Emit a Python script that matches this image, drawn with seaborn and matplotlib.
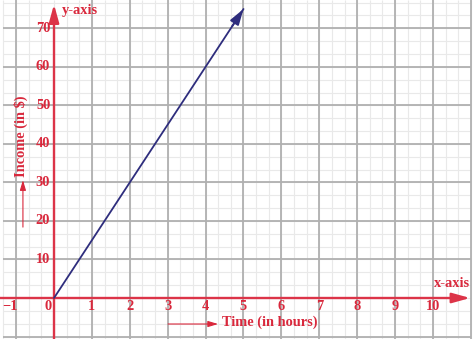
import numpy as np
import pandas as pd
import matplotlib
matplotlib.use("Agg")
import matplotlib.pyplot as plt
import seaborn as sns

# ---- data ----
time_hours = [0, 5]
income = [0, 75]
x_tick_values = [-1, 0, 1, 2, 3, 4, 5, 6, 7, 8, 9, 10]
x_tick_labels = ["\u22121", "0", "1", "2", "3", "4", "5", "6", "7", "8", "9", "10"]
y_tick_values = [10, 20, 30, 40, 50, 60, 70]
y_tick_labels = ["10", "20", "30", "40", "50", "60", "70"]

RED = "#d9283c"
AXRED = "#dc3448"
NAVY = "#2e2d7d"
MAJOR = "#b0b0b0"
MINOR = "#e9e9e9"

sns.set_theme(style="white")
plt.rcParams["font.family"] = ["Liberation Serif", "DejaVu Serif"]

fig = plt.figure(figsize=(4.74, 3.39), dpi=100)
ax = fig.add_axes([0, 0, 1, 1])
ax.set_xlim(-1.425, 11.082)
ax.set_ylim(-10.64, 77.34)
ax.axis("off")

# ---- grid paper ----
gx0, gx1 = -1.333, 11.0
gy0, gy1 = -10.67, 77.34
minor_x = np.arange(-4, 34) / 3.0
minor_y = np.arange(-3, 24) * 10 / 3.0
ax.vlines(minor_x, gy0, gy1, color=MINOR, lw=0.8, zorder=0)
ax.hlines(minor_y, gx0, gx1, color=MINOR, lw=0.8, zorder=0)
major_x = np.arange(-1, 12)
major_y = np.arange(-10, 80, 10)
ax.vlines(major_x[major_x != 0], gy0, gy1, color=MAJOR, lw=1.3, zorder=1)
ax.hlines(major_y[major_y != 0], gx0, gx1, color=MAJOR, lw=1.3, zorder=1)

# ---- axes with arrows ----
ax.annotate("", xy=(10.98, 0), xytext=(-1.425, 0),
            arrowprops=dict(arrowstyle="-|>,head_length=0.9,head_width=0.25",
                            color=AXRED, lw=1.7, shrinkA=0, shrinkB=0), zorder=3)
ax.annotate("", xy=(0, 76.2), xytext=(0, -10.64),
            arrowprops=dict(arrowstyle="-|>,head_length=0.9,head_width=0.25",
                            color=AXRED, lw=1.7, shrinkA=0, shrinkB=0), zorder=3)

# ---- data line ----
df = pd.DataFrame({"Time": time_hours, "Income": income})
sns.lineplot(data=df, x="Time", y="Income", color=NAVY, lw=1.3, ax=ax, zorder=4)
ax.annotate("", xy=(time_hours[-1], income[-1]),
            xytext=(time_hours[-1] - 0.3, income[-1] - 4.5),
            arrowprops=dict(arrowstyle="-|>,head_length=0.8,head_width=0.25",
                            color=NAVY, lw=1.3, shrinkA=0, shrinkB=0), zorder=5)

# ---- tick labels ----
fs = 10.4
for v, lab in zip(x_tick_values, x_tick_labels):
    off = -0.15 if v <= 0 else 0.0
    ax.text(v + off, -2.1, lab, color=RED, fontsize=fs, fontweight="bold",
            ha="center", va="center", zorder=6)
for v, lab in zip(y_tick_values, y_tick_labels):
    ax.text(-0.1, v, lab, color=RED, fontsize=fs, fontweight="bold",
            ha="right", va="center", zorder=6)

# ---- axis names ----
ax.text(0.21, 74.6, "y-axis", color=RED, fontsize=fs, fontweight="bold",
        ha="left", va="center")
ax.text(10.98, 3.8, "x-axis", color=RED, fontsize=fs, fontweight="bold",
        ha="right", va="center")
ax.text(4.42, -6.3, "Time (in hours)", color=RED, fontsize=fs, fontweight="bold",
        ha="left", va="center")
ax.annotate("", xy=(4.33, -6.75), xytext=(3.01, -6.75),
            arrowprops=dict(arrowstyle="-|>,head_length=0.5,head_width=0.15",
                            color=RED, lw=0.8, shrinkA=0, shrinkB=0))
ax.text(-0.86, 42, "Income (in $)", color=RED, fontsize=fs, fontweight="bold",
        ha="center", va="center", rotation=90)
ax.annotate("", xy=(-0.82, 30.6), xytext=(-0.82, 18.4),
            arrowprops=dict(arrowstyle="-|>,head_length=0.5,head_width=0.15",
                            color=RED, lw=0.8, shrinkA=0, shrinkB=0))

fig.savefig("out.png", dpi=100, facecolor="white")
